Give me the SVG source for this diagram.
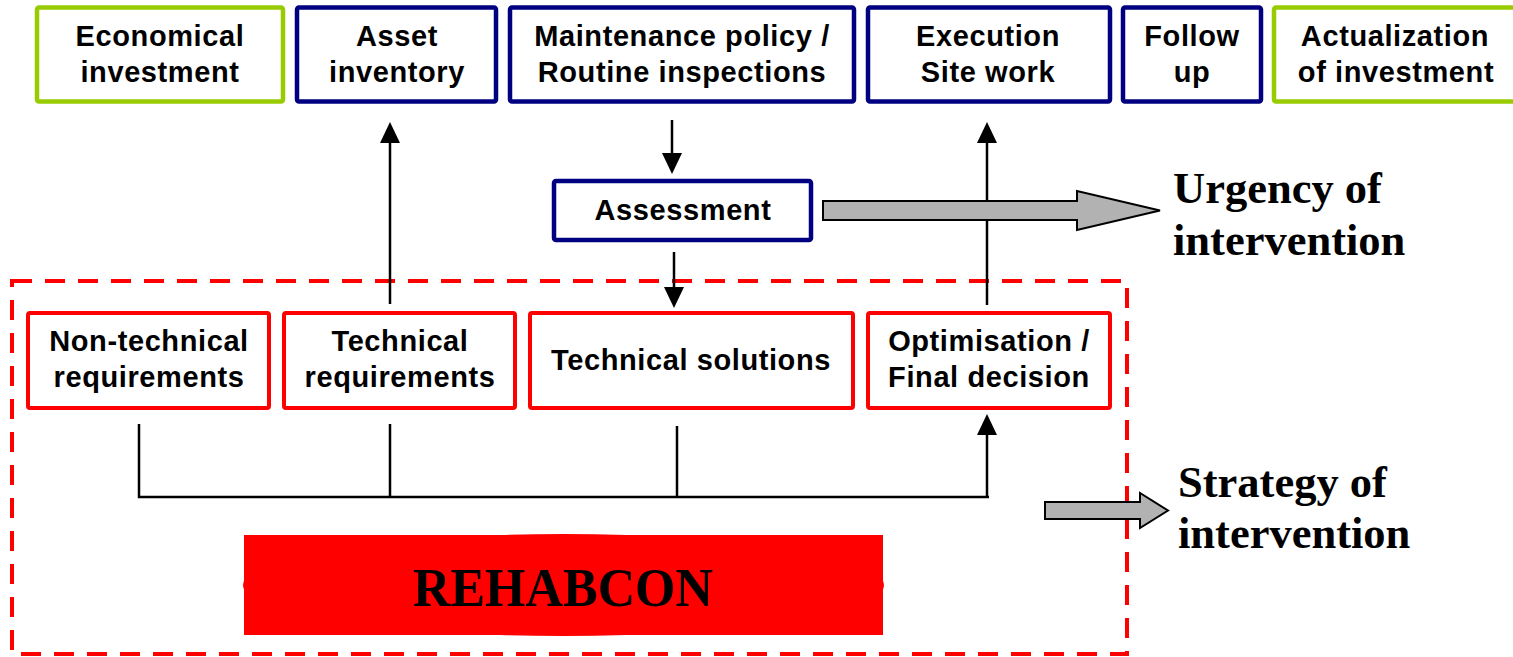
<svg xmlns="http://www.w3.org/2000/svg" width="1513" height="657" viewBox="0 0 1513 657">
<style>
.bg{fill:#fff}
.nb{fill:#fff;stroke:#000080;stroke-width:4.5}
.ng{fill:#fff;stroke:#99CC00;stroke-width:4.5}
.nr{fill:#fff;stroke:#FF0000;stroke-width:4}
.t{font-family:"Liberation Sans",Arial,sans-serif;font-weight:bold;font-size:29px;letter-spacing:0.6px;fill:#000;text-anchor:middle}
.tt{font-family:"Liberation Serif","Times New Roman",serif;font-weight:bold;font-size:44.5px;fill:#000}
.c{fill:none;stroke:#000;stroke-width:2.5}
.ga{fill:#B2B2B2;stroke:#000;stroke-width:2}
</style>
<defs>
<marker id="ah" markerUnits="userSpaceOnUse" markerWidth="22" markerHeight="20" refX="0" refY="10" orient="auto" overflow="visible">
<path d="M0,0 L21,10 L0,20 z" fill="#000"/>
</marker>
</defs>
<rect class="bg" x="0" y="0" width="1513" height="657"/>

<g id="frame">
<rect x="12" y="281" width="1115" height="373" fill="none" stroke="#FF0000" stroke-width="4" stroke-dasharray="20,13"/>
</g>

<g id="economical">
<rect class="ng" x="37" y="7.5" width="246" height="94" rx="2"/>
<text class="t" x="160" y="46">Economical</text>
<text class="t" x="160" y="82">investment</text>
</g>
<g id="asset">
<rect class="nb" x="297" y="7.5" width="199" height="94" rx="2"/>
<text class="t" x="397" y="46">Asset</text>
<text class="t" x="397" y="82">inventory</text>
</g>
<g id="maintenance">
<rect class="nb" x="510" y="7.5" width="344" height="94" rx="2"/>
<text class="t" x="682" y="46">Maintenance policy /</text>
<text class="t" x="682" y="82">Routine inspections</text>
</g>
<g id="execution">
<rect class="nb" x="868" y="7.5" width="242" height="94" rx="2"/>
<text class="t" x="988" y="46">Execution</text>
<text class="t" x="988" y="82">Site work</text>
</g>
<g id="followup">
<rect class="nb" x="1123" y="7.5" width="138" height="94" rx="2"/>
<text class="t" x="1192" y="46">Follow</text>
<text class="t" x="1192" y="82">up</text>
</g>
<g id="actualization">
<rect class="ng" x="1274" y="7.5" width="244" height="94" rx="2"/>
<text class="t" x="1395" y="46">Actualization</text>
<text class="t" x="1396" y="82">of investment</text>
</g>

<g id="assessment">
<rect class="nb" x="554" y="181" width="257" height="59" rx="2"/>
<text class="t" x="683" y="220">Assessment</text>
</g>

<g id="nontechnical">
<rect class="nr" x="28" y="313" width="241" height="95" rx="2"/>
<text class="t" x="149" y="351">Non-technical</text>
<text class="t" x="149" y="387">requirements</text>
</g>
<g id="techreq">
<rect class="nr" x="284" y="313" width="231" height="95" rx="2"/>
<text class="t" x="400" y="351">Technical</text>
<text class="t" x="400" y="387">requirements</text>
</g>
<g id="techsol">
<rect class="nr" x="530" y="313" width="323" height="95" rx="2"/>
<text class="t" x="691" y="370">Technical solutions</text>
</g>
<g id="optimisation">
<rect class="nr" x="868" y="313" width="242" height="95" rx="2"/>
<text class="t" x="989" y="351">Optimisation /</text>
<text class="t" x="989" y="387">Final decision</text>
</g>

<g id="rehabcon">
<ellipse cx="563.5" cy="585" rx="320.5" ry="51" fill="#FF0000"/>
<rect x="244" y="535" width="639" height="100" fill="#FF0000"/>
<text x="563" y="606" font-family="'Liberation Serif','Times New Roman',serif" font-weight="bold" font-size="54" text-anchor="middle" textLength="300" lengthAdjust="spacingAndGlyphs">REHABCON</text>
</g>

<g id="urgency">
<text class="tt" x="1173" y="203">Urgency of</text>
<text class="tt" x="1173" y="255">intervention</text>
</g>
<g id="strategy">
<text class="tt" x="1178" y="497">Strategy of</text>
<text class="tt" x="1178" y="548">intervention</text>
</g>

<g id="connectors">
<line class="c" x1="672" y1="120" x2="672" y2="153" marker-end="url(#ah)"/>
<line class="c" x1="674" y1="252" x2="674" y2="287" marker-end="url(#ah)"/>
<line class="c" x1="390" y1="304" x2="390" y2="143" marker-end="url(#ah)"/>
<line class="c" x1="987" y1="305" x2="987" y2="143" marker-end="url(#ah)"/>
<path class="c" d="M139,424 V497 H989 M390,424 V497 M677,426 V497"/>
<line class="c" x1="987" y1="497" x2="987" y2="435" marker-end="url(#ah)"/>
<polygon class="ga" points="823,201 1077,201 1077,191 1160,210.5 1077,230 1077,220 823,220"/>
<polygon class="ga" points="1045,502 1140,502 1140,493 1168,510.5 1140,528 1140,519 1045,519"/>
</g>
</svg>
